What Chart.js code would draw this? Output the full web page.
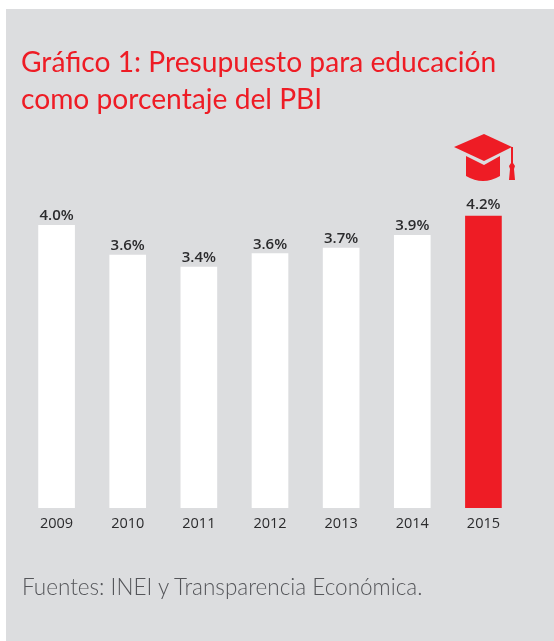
<!DOCTYPE html>
<html>
<head>
<meta charset="utf-8">
<title>Gráfico 1</title>
<script src="https://cdn.jsdelivr.net/npm/chart.js@4"></script>
<style>
  html, body { margin: 0; padding: 0; background: #fff; width: 554px; height: 641px; overflow: hidden; }
  #panel { position: absolute; left: 6px; top: 9px; width: 548px; height: 632px; background: #dcdddf; }
  #wrap { position: absolute; left: 0; top: 0; width: 554px; height: 641px; }
  #title { position: absolute; left: 21px; top: 43px; margin: 0; font: 400 28.2px/37px Lato, sans-serif; color: #ee1c25; white-space: nowrap; }
  #source { position: absolute; left: 22px; top: 574px; margin: 0; font: 300 22.5px/26px Lato, sans-serif; color: #55565a; white-space: nowrap; }
  #cap { position: absolute; left: 454px; top: 134px; }
</style>
</head>
<body>
<div id="panel"></div>
<div id="wrap"><canvas id="chart" width="554" height="641"></canvas></div>
<h1 id="title">Gráfico 1: Presupuesto para educación<br>como porcentaje del PBI</h1>
<p id="source">Fuentes: INEI y Transparencia Económica.</p>
<svg id="cap" width="62" height="48" viewBox="0 0 62 48">
  <path fill="#ee1c25" d="M0 13 L30 0 L58 13 L30 27 Z"/>
  <path fill="#ee1c25" d="M12 22 L30 31 L46 22 L46 42 Q29 52 12 42 Z"/>
  <path fill="#ee1c25" d="M57 13 L59 13 L59 29 L61 32 L60 35 L61 46 L55 46 L56 35 L55 32 L57 29 Z"/>
</svg>
<script>
const years = ["2009", "2010", "2011", "2012", "2013", "2014", "2015"];
// printed on top of the bars
const printedLabels = ["4.0%", "3.6%", "3.4%", "3.6%", "3.7%", "3.9%", "4.2%"];
// heights as drawn in the picture, they don't follow the printed numbers exactly
const barValues = [4.0, 3.58, 3.41, 3.6, 3.68, 3.86, 4.13];
const barColors = ["#ffffff", "#ffffff", "#ffffff", "#ffffff", "#ffffff", "#ffffff", "#ee1c25"];

const valueLabels = {
    id: "valueLabels",
    afterDatasetsDraw(chart) {
        const { ctx } = chart;
        const bars = chart.getDatasetMeta(0).data;
        ctx.save();
        ctx.font = "600 15px 'Open Sans', sans-serif";
        ctx.fillStyle = "#2b2b2d";
        ctx.textAlign = "center";
        ctx.textBaseline = "alphabetic";
        bars.forEach((bar, i) => {
            // the 2015 label sits a little higher in the original
            const lift = i === bars.length - 1 ? 7 : 5;
            ctx.fillText(printedLabels[i], bar.x, bar.y - lift);
        });
        ctx.restore();
    }
};

new Chart(document.getElementById("chart"), {
    type: "bar",
    data: {
        labels: years,
        datasets: [{
            data: barValues,
            backgroundColor: barColors,
            barThickness: 36
        }]
    },
    options: {
        responsive: false,
        animation: false,
        layout: { padding: { left: 21, right: 35, top: 190, bottom: 109.5 } },
        plugins: { legend: { display: false }, tooltip: { enabled: false } },
        scales: {
            x: {
                grid: { display: false },
                border: { display: false },
                ticks: { color: "#2b2b2d", font: { family: "'Open Sans', sans-serif", size: 14.5 }, padding: -1, maxRotation: 0 }
            },
            y: { display: false, min: 0, max: 4.5 }
        }
    },
    plugins: [valueLabels]
});
</script>
</body>
</html>
